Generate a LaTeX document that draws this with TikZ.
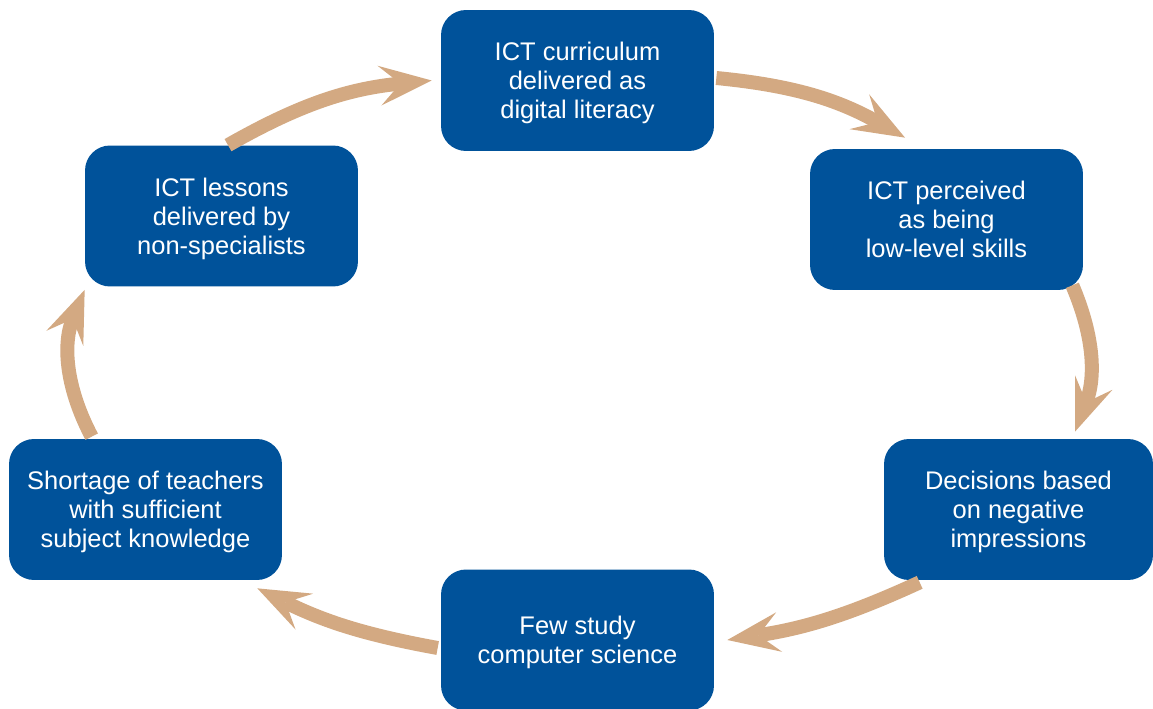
\documentclass[tikz,border=0pt]{standalone}
\usepackage{fontspec}
\setmainfont{Liberation Sans}
\usetikzlibrary{arrows.meta}
\definecolor{boxblue}{HTML}{00529A}
\definecolor{arrowtan}{HTML}{D3A982}
\begin{document}
\begin{tikzpicture}[
        x=0.02cm, y=-0.02cm,
        box/.style={fill=boxblue, rounded corners=0.5cm, minimum width=5.46cm, minimum height=2.82cm, inner sep=0pt, text=white, align=center, text depth=0pt, font=\fontsize{14.5}{16.5}\selectfont},
        narrow/.style={minimum width=5.38cm},
        flow/.style={draw=arrowtan, line width=0.28cm, -{Stealth[length=1.05cm, width=0.8cm, inset=0.42cm, line width=0pt]}},
    ]
    \useasboundingbox (0,0) rectangle (1153,709);
    \node[box](curr) at (577.5,80.5){ICT curriculum\\delivered as\\digital literacy};
    \node[box](perc) at (946.5,219.5){ICT perceived\\as being\\low-level skills};
    \node[box, narrow](deci) at (1018.5,509.5){Decisions based\\on negative\\impressions};
    \node[box](few) at (577.5,640){Few study\\computer science};
    \node[box](short) at (145.5,509.5){Shortage of teachers\\with sufficient\\subject knowledge};
    \node[box](less) at (221.5,216){ICT lessons\\delivered by\\non-specialists};
    % the cycle
    \draw[flow] ([shift={(2,-2.5)}]curr.east) to[bend left=12] ([shift={(-41.5,-11)}]perc.north);
    \draw[flow] ([shift={(-11,-5)}]perc.south east) to[bend left=22] ([shift={(56.5,-7)}]deci.north);
    \draw[flow] ([shift={(36,2)}]deci.south west) to[bend left=8] ([shift={(13,0)}]few.east);
    \draw[flow] ([shift={(-3,8)}]few.west) to[bend left=8] ([shift={(-25,8)}]short.south east);
    \draw[flow] ([shift={(83,-2)}]short.north west) to[bend left=25] ([shift={(0,3)}]less.south west);
    \draw[flow] ([shift={(6.5,0)}]less.north) to[bend left=12] ([shift={(-9,0)}]curr.west);
\end{tikzpicture}
\end{document}
